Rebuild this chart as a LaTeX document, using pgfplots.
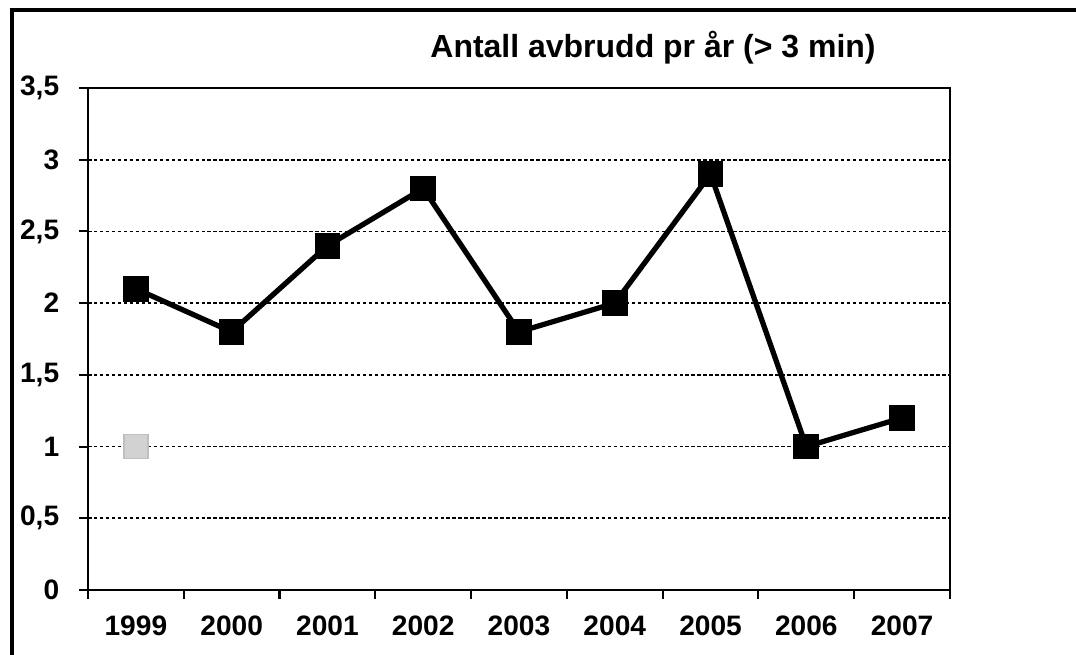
\documentclass[border=0pt]{standalone}
\usepackage{fontspec}
\setmainfont{Liberation Sans}
\usepackage{pgfplots}
\pgfplotsset{compat=1.18}
\begin{document}
\fontsize{7.8}{9}\selectfont
\begin{tikzpicture}[x=0.1mm,y=0.1mm]
\path[use as bounding box] (0,0) rectangle (1076,655);
\draw[line width=0.45mm] (12,0) -- (12,645) -- (1076,645);
\node[font=\fontsize{9.1}{10}\selectfont\bfseries] at (653,607) {Antall avbrudd pr år (> 3 min)};
\begin{axis}[
  at={(8.8mm,6.5mm)}, anchor=south west,
  scale only axis, width=86.2mm, height=50.2mm,
  xmin=-0.5, xmax=8.5, ymin=0, ymax=3.5,
  axis line style={line width=0.8pt},
  xtick={-0.5,0.5,...,8.5}, xticklabels={},
  extra x ticks={0,1,2,3,4,5,6,7,8},
  extra x tick labels={1999,2000,2001,2002,2003,2004,2005,2006,2007},
  extra x tick style={major tick length=0pt, tick label style={yshift=-1.6mm}},
  ytick={0,0.5,...,3.5},
  yticklabels={0,{0,5},1,{1,5},2,{2,5},3,{3,5}},
  yticklabel style={xshift=-1.0mm},
  tick align=outside, major tick length=0.9mm,
  tick style={black, line width=0.6pt},
  xtick pos=bottom, ytick pos=left,
  ymajorgrids, grid style={black, line width=0.5pt, dash pattern=on 1pt off 0.7pt},
  tick label style={font=\fontsize{8}{9}\selectfont\bfseries},
  /pgf/number format/assume math mode=true,
]
\addplot[black, line width=1.5pt, mark=square*, mark size=2.9pt, mark options={solid}]
  coordinates {(0,2.1)(1,1.8)(2,2.4)(3,2.8)(4,1.8)(5,2.0)(6,2.9)(7,1.0)(8,1.2)};
\addplot[only marks, mark=square*, mark size=3.4pt, draw=gray!50, fill=gray!35]
  coordinates {(0,1.0)};
\end{axis}
\end{tikzpicture}
\end{document}
